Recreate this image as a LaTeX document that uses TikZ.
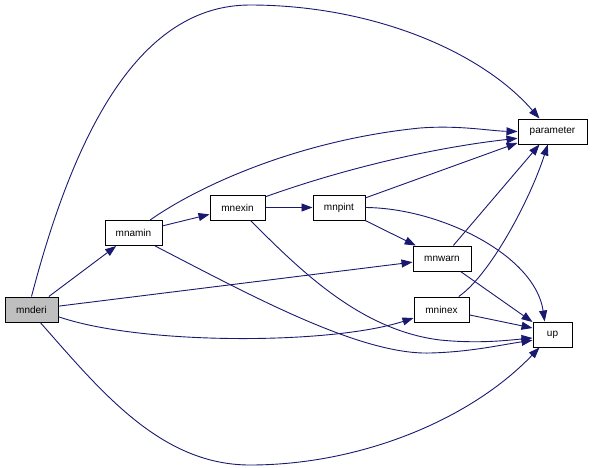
\documentclass[tikz,border=0pt]{standalone}
\usepackage{fontspec}
\setmainfont{Liberation Sans}
\usepackage{xcolor}
\usepackage{tikz}
\usetikzlibrary{arrows.meta}
\definecolor{edgeblue}{RGB}{25,25,112}
\definecolor{rootgray}{RGB}{191,191,191}

\begin{document}
\begin{tikzpicture}[
  x=1pt,y=-1pt,
  fn/.style={draw=black,line width=1pt,fill=white,minimum height=25pt,inner sep=0pt,font=\fontsize{10}{12}\selectfont},
  root/.style={fn,fill=rootgray},
  call/.style={-{Triangle[length=11pt,width=8pt]},line width=0.9pt,color=edgeblue}
]
\useasboundingbox (0,0) rectangle (592,467);
% functions
\node[root,minimum width=53pt] (mnderi) at (31.5,309.5) {mnderi};
\node[fn,minimum width=57pt] (mnamin) at (133.5,233) {mnamin};
\node[fn,minimum width=55pt] (mnexin) at (237.5,207.5) {mnexin};
\node[fn,minimum width=52pt] (mnpint) at (339,207.5) {mnpint};
\node[fn,minimum width=58pt] (mnwarn) at (442,258.5) {mnwarn};
\node[fn,minimum width=55pt] (mninex) at (441.5,309.5) {mninex};
\node[fn,minimum width=69pt] (parameter) at (552.5,131.5) {parameter};
\node[fn,minimum width=39pt] (up) at (552.5,334.5) {up};
% calls from mnderi
\draw[call] (mnderi.north) .. controls (75,130) and (140,5) .. (250,5)
  .. controls (370,5) and (480,50) .. (parameter.135);
\draw[call] (mnderi) -- (mnamin);
\draw[call] (mnderi) -- (mnwarn);
\draw[call] (mnderi.-15) .. controls (140,345) and (330,345) .. (mninex.197);
\draw[call] (mnderi.-56) .. controls (100,390) and (160,465) .. (250,465)
  .. controls (360,465) and (470,420) .. (up.225);
% calls from mnamin
\draw[call] (mnamin.38) .. controls (200,185) and (300,140) .. (420,128)
  .. controls (460,125) and (490,131) .. (parameter.west);
\draw[call] (mnamin) -- (mnexin);
\draw[call] (mnamin.-31) .. controls (250,295) and (360,355) .. (430,353)
  .. controls (470,352) and (500,345) .. (up.196);
% calls from mnexin
\draw[call] (mnexin.21) .. controls (340,170) and (430,148) .. (parameter.191);
\draw[call] (mnexin) -- (mnpint);
\draw[call] (mnexin.-45) .. controls (300,270) and (360,330) .. (440,340)
  .. controls (480,344) and (510,340) .. (up.190);
% calls from mnpint
\draw[call] (mnpint.20) -- (parameter.198);
\draw[call] (mnpint) -- (mnwarn);
\draw[call] (mnpint.east) .. controls (440,208) and (535,255) .. (up.121);
% calls from mnwarn and mninex
\draw[call] (mnwarn.49) -- (parameter.225);
\draw[call] (mnwarn.-35) -- (up.148);
\draw[call] (mninex.37) .. controls (490,275) and (530,200) .. (parameter.250);
\draw[call] (mninex.-11) -- (up.162);
\end{tikzpicture}
\end{document}
